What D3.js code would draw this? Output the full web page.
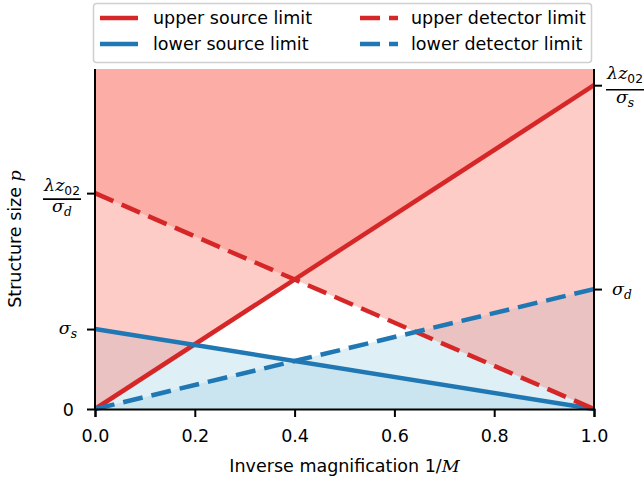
<!DOCTYPE html>
<html>
<head>
<meta charset="utf-8">
<script src="https://cdn.jsdelivr.net/npm/d3@7"></script>
<style>
  body { margin: 0; background: #fff; }
  svg { display: block; font-family: "DejaVu Sans", sans-serif; }
  .mi { font-style: italic; font-family: "DejaVu Serif", serif; }
</style>
</head>
<body>
<div id="chart"></div>
<script>
// chart quantities (arbitrary units, sigma_s = 1)
const sigmaS = 1, sigmaD = 1.5, lz02 = 4.05;
const xTicks = [0, 0.2, 0.4, 0.6, 0.8, 1.0];
const invMag = [0, 1];
const upperSource = [0, lz02 / sigmaS];
const lowerSource = [sigmaS, 0];
const upperDetector = [lz02 / sigmaD, 0];
const lowerDetector = [0, sigmaD];
const yMax = 1.05 * lz02 / sigmaS;

const legendItems = [
  {label: 'upper source limit', color: '#d62728', dash: null, col: 0, row: 0},
  {label: 'lower source limit', color: '#1f77b4', dash: null, col: 0, row: 1},
  {label: 'upper detector limit', color: '#d62728', dash: '20,9', col: 1, row: 0},
  {label: 'lower detector limit', color: '#1f77b4', dash: '20,9', col: 1, row: 1}
];

const W = 644, H = 480;
const m = {left: 95, right: 50, top: 69, bottom: 71};
const fs = 17.5;

const svg = d3.select('#chart').append('svg').attr('width', W).attr('height', H);

let x = d3.scaleLinear().domain([0, 1]).range([m.left, W - m.right]);
let y = d3.scaleLinear().domain([0, yMax]).range([H - m.bottom, m.top]);

svg.append('clipPath').attr('id', 'clip')
  .append('rect').attr('x', x(0)).attr('y', y(yMax))
  .attr('width', x(1) - x(0)).attr('height', y(0) - y(yMax));

let plot = svg.append('g').attr('clip-path', 'url(#clip)');

let pts = arr => invMag.map((v, i) => [v, arr[i]]);

// blue fills first, red fills on top
let below = d3.area().x(d => x(d[0])).y0(y(0)).y1(d => y(d[1]));
let above = d3.area().x(d => x(d[0])).y0(y(yMax)).y1(d => y(d[1]));

[lowerSource, lowerDetector].forEach(a => {
  plot.append('path').attr('d', below(pts(a)))
    .attr('fill', '#add8e6').attr('fill-opacity', 0.4);
});
[upperSource, upperDetector].forEach(a => {
  plot.append('path').attr('d', above(pts(a)))
    .attr('fill', '#fa8072').attr('fill-opacity', 0.4);
});

let line = d3.line().x(d => x(d[0])).y(d => y(d[1]));
let series = [
  {v: upperSource, color: '#d62728', dash: null},
  {v: lowerSource, color: '#1f77b4', dash: null},
  {v: upperDetector, color: '#d62728', dash: '20,9'},
  {v: lowerDetector, color: '#1f77b4', dash: '20,9'}
];
series.forEach(s => {
  svg.append('path').attr('d', line(pts(s.v)))
    .attr('fill', 'none').attr('stroke', s.color).attr('stroke-width', 4.5)
    .attr('stroke-dasharray', s.dash);
});

// axes
let xAxis = svg.append('g').attr('transform', `translate(0,${y(0)})`)
  .call(d3.axisBottom(x).tickValues(xTicks).tickFormat(d3.format('.1f')).tickSizeOuter(0).tickSize(8).tickPadding(13));
xAxis.selectAll('text').attr('font-size', fs).attr('font-family', 'DejaVu Sans').attr('fill', '#000');

let yLeft = svg.append('g').attr('transform', `translate(${x(0)},0)`)
  .call(d3.axisLeft(y).tickValues([0, sigmaS, lz02 / sigmaD]).tickFormat('').tickSizeOuter(0).tickSize(8));
let yRight = svg.append('g').attr('transform', `translate(${x(1)},0)`)
  .call(d3.axisRight(y).tickValues([sigmaD, lz02 / sigmaS]).tickFormat('').tickSizeOuter(0).tickSize(8));

[xAxis, yLeft, yRight].forEach(g => {
  g.selectAll('.domain').attr('stroke', '#000').attr('stroke-width', 2);
  g.selectAll('.tick line').attr('stroke', '#000').attr('stroke-width', 2);
});
yLeft.select('.domain').attr('d', `M0,${y(yMax)}V${y(0)}`);
yRight.select('.domain').attr('d', `M0,${y(yMax)}V${y(0)}`);

// y tick labels
let lab = svg.append('g').attr('font-size', fs).attr('fill', '#000');

lab.append('text').attr('x', x(0) - 21).attr('y', y(0) + 6.5)
  .attr('text-anchor', 'end').text('0');

function sym(g, xp, yp, anchor, base, sub) {
  let t = g.append('text').attr('x', xp).attr('y', yp).attr('text-anchor', anchor);
  base.forEach(b => t.append('tspan').attr('class', b.i ? 'mi' : null).text(b.t));
  t.append('tspan').attr('font-size', fs * 0.7).attr('dy', 4).attr('class', sub.i ? 'mi' : null).text(sub.t);
  return t;
}

function frac(cx, T, off, den) {
  let g = lab.append('g');
  sym(g, cx, T + off[0], 'middle', [{t: 'λ', i: true}, {t: 'z', i: true}], {t: '02', i: false});
  g.append('line').attr('x1', cx - 19).attr('x2', cx + 19)
    .attr('y1', T + off[1]).attr('y2', T + off[1]).attr('stroke', '#000').attr('stroke-width', 1.6);
  sym(g, cx, T + off[2], 'middle', [{t: 'σ', i: true}], {t: den, i: true});
}

frac(62, y(lz02 / sigmaD), [-2, 6, 19], 'd');
frac(625, y(lz02 / sigmaS), [-6.5, 4.5, 18], 's');

sym(lab, x(0) - 18, y(sigmaS) + 5, 'end', [{t: 'σ', i: true}], {t: 's', i: true});
sym(lab, x(1) + 18, y(sigmaD) + 6, 'start', [{t: 'σ', i: true}], {t: 'd', i: true});

// axis titles
let xt = svg.append('text').attr('x', (x(0) + x(1)) / 2).attr('y', 472)
  .attr('text-anchor', 'middle').attr('font-size', fs);
xt.append('tspan').text('Inverse magnification 1/');
xt.append('tspan').attr('class', 'mi').text('M');

let yt = svg.append('text').attr('transform', `translate(21,${(y(0) + y(yMax)) / 2}) rotate(-90)`)
  .attr('text-anchor', 'middle').attr('font-size', fs);
yt.append('tspan').text('Structure size ');
yt.append('tspan').attr('class', 'mi').text('p');

// legend
let lg = svg.append('g');
lg.append('rect').attr('x', 93.5).attr('y', 3.5).attr('width', 498).attr('height', 59)
  .attr('rx', 3).attr('fill', '#fff').attr('stroke', '#d0d0d0').attr('stroke-width', 1.5);
let colX = [100, 360], textX = [153, 411];
legendItems.forEach(it => {
  let ly = 18 + it.row * 26;
  lg.append('line').attr('x1', colX[it.col]).attr('x2', colX[it.col] + 38)
    .attr('y1', ly).attr('y2', ly).attr('stroke', it.color).attr('stroke-width', 4.5)
    .attr('stroke-dasharray', it.dash);
  lg.append('text').attr('x', textX[it.col]).attr('y', ly + 6.3)
    .attr('font-size', fs).text(it.label);
});
</script>
</body>
</html>
